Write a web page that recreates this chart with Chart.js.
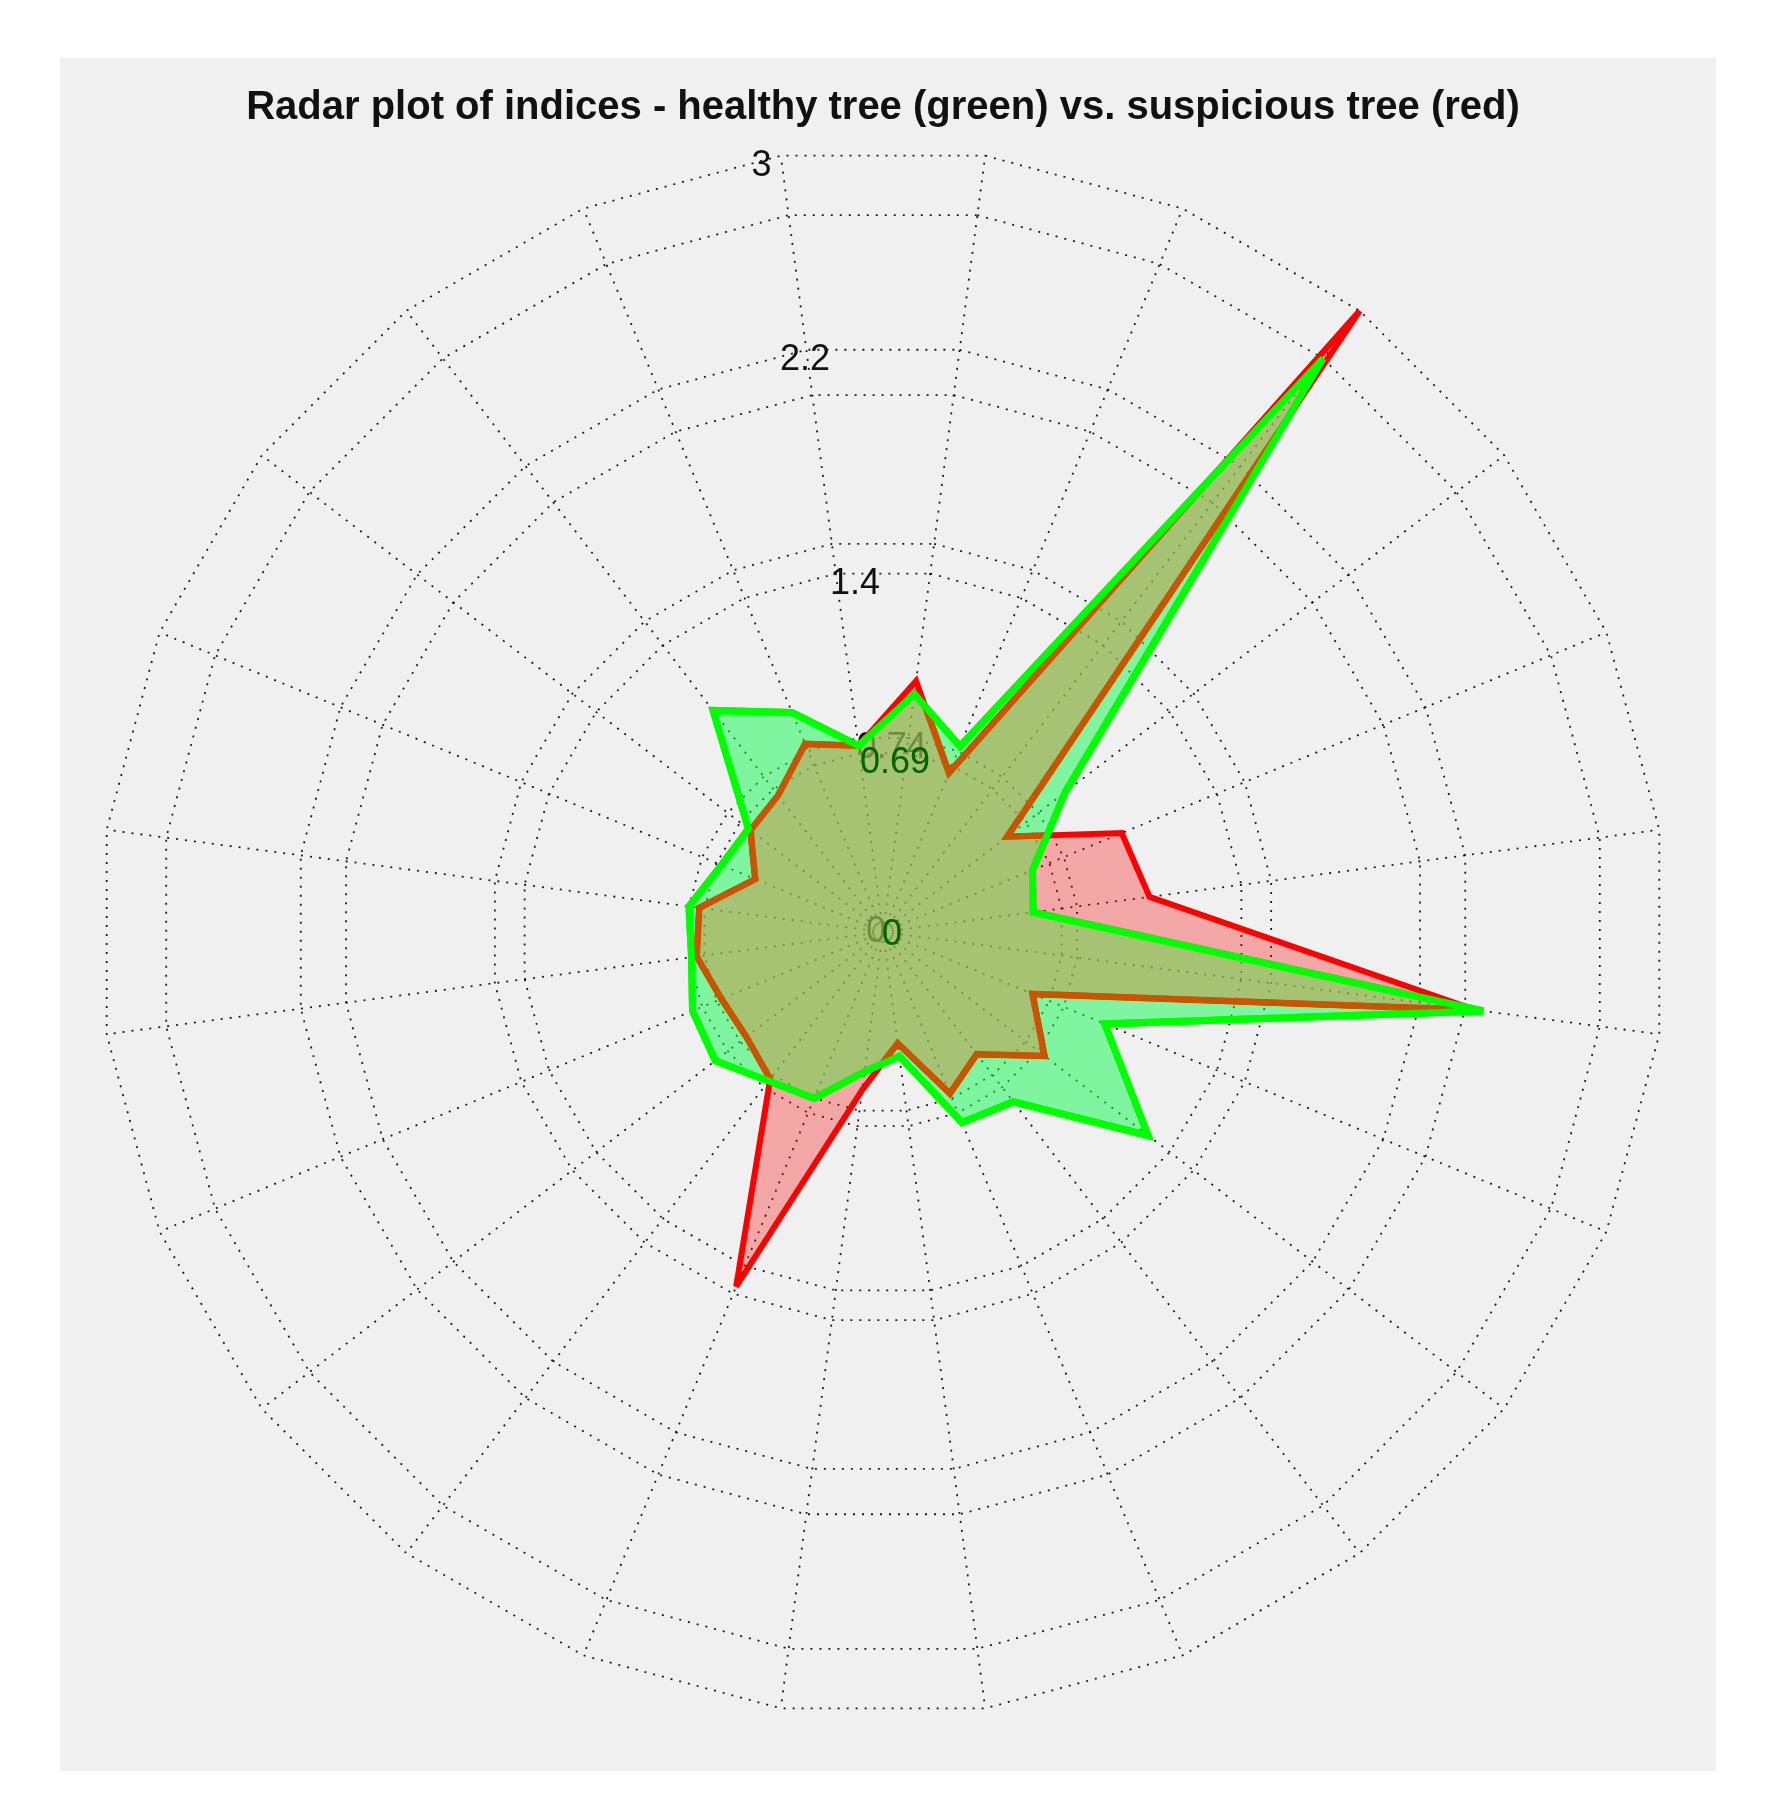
<!DOCTYPE html>
<html>
<head>
<meta charset="utf-8">
<title>Radar plot of indices</title>
<script src="https://cdn.jsdelivr.net/npm/chart.js@4.4.1/dist/chart.umd.min.js"></script>
<style>
  html, body { margin: 0; padding: 0; background: #ffffff; }
  canvas { display: block; }
</style>
</head>
<body>
<canvas id="grafico" width="1779" height="1818"></canvas>
<script>
const indices = ["I1", "I2", "I3", "I4", "I5", "I6", "I7", "I8", "I9", "I10", "I11", "I12",
  "I13", "I14", "I15", "I16", "I17", "I18", "I19", "I20", "I21", "I22", "I23", "I24"];
const healthyTree = [0.92, 0.77, 2.77, 0.88, 0.62, 0.58, 2.32, 0.92, 1.28, 0.82, 0.79, 0.48,
  0.54, 0.69, 0.72, 0.81, 0.79, 0.74, 0.75, 0.67, 0.65, 1.07, 0.91, 0.72];
const suspiciousTree = [0.97, 0.66, 3.0, 0.60, 0.99, 1.03, 2.29, 0.62, 0.78, 0.59, 0.67, 0.43,
  0.61, 1.47, 0.71, 0.66, 0.67, 0.72, 0.71, 0.53, 0.64, 0.66, 0.78, 0.72];

// two sets of rings: one per series range
const ringsRed = [0.75, 1.5, 2.25, 3];
const ringsGreen = [0.69, 1.385, 2.075, 2.77];
const tickLabelsBlack = ["0.74", "1.4", "2.2", "3"];
const tickValuesBlack = [0.75, 1.385, 2.25, 3];
const tickLabelsGreen = ["0.69"];
const tickValuesGreen = [0.69];

const labelFont = '36px "Liberation Sans", Arial, sans-serif';

const panel = {
  id: "panel",
  beforeDraw(chart) {
    const ctx = chart.ctx;
    ctx.save();
    ctx.fillStyle = "#f0f0f0";
    ctx.fillRect(60, 58, 1656, 1713);
    ctx.restore();
  },
  beforeDatasetsDraw(chart) {
    // very sharp tips get cut flat, like the original plot
    chart.ctx.miterLimit = 4;
  }
};

const labelPos = (scale, value) => {
  const r = scale.getDistanceFromCenterForValue(value);
  return { x: scale.xCenter + 52 - 0.2215 * r, y: scale.yCenter - 0.9914 * r + 10 };
};

const drawTickLabels = (chart, texts, values, color, zeroDx, zeroDy) => {
  const ctx = chart.ctx;
  const scale = chart.scales.r;
  ctx.save();
  ctx.font = labelFont;
  ctx.fillStyle = color;
  ctx.textAlign = "center";
  ctx.textBaseline = "middle";
  texts.forEach((t, i) => {
    const p = labelPos(scale, values[i]);
    ctx.fillText(t, p.x, p.y);
  });
  ctx.fillText("0", scale.xCenter + zeroDx, scale.yCenter + zeroDy);
  ctx.restore();
};

const ringLabels = {
  id: "ringLabels",
  beforeDatasetsDraw(chart) {
    drawTickLabels(chart, tickLabelsBlack, tickValuesBlack, "#111111", -7, 0);
  }
};

const overlapLines = {
  id: "overlapLines",
  afterDatasetsDraw(chart) {
    const ctx = chart.ctx;
    const green = chart.getDatasetMeta(0).data;
    const red = chart.getDatasetMeta(1).data;
    const tracePath = (pts) => {
      ctx.beginPath();
      pts.forEach((p, i) => (i ? ctx.lineTo(p.x, p.y) : ctx.moveTo(p.x, p.y)));
      ctx.closePath();
    };
    // where both patches overlap: greener tint and the red edge seen through green
    ctx.save();
    ctx.lineJoin = "miter";
    ctx.miterLimit = 4;
    tracePath(green);
    ctx.clip();
    tracePath(red);
    ctx.fillStyle = "rgba(163, 251, 122, 0.3)";
    ctx.fill();
    ctx.strokeStyle = "#c85500";
    ctx.lineWidth = 6.5;
    ctx.stroke();
    ctx.restore();

    ctx.save();
    ctx.lineJoin = "miter";
    ctx.miterLimit = 4;
    tracePath(green);
    ctx.strokeStyle = "#00ff00";
    ctx.lineWidth = 7;
    ctx.stroke();
    ctx.restore();

    drawTickLabels(chart, tickLabelsGreen, tickValuesGreen, "#006400", 9, 3);
  }
};

const config = {
  type: "radar",
  data: {
    labels: indices,
    datasets: [
      {
        label: "healthy tree",
        data: healthyTree,
        backgroundColor: "rgba(16, 250, 80, 0.5)",
        borderColor: "#00ff00",
        borderWidth: 7,
        borderJoinStyle: "miter",
        pointRadius: 0,
        fill: true,
        order: 2,
      },
      {
        label: "suspicious tree",
        data: suspiciousTree,
        backgroundColor: "rgba(255, 0, 0, 0.3)",
        borderColor: "#ff0000",
        borderWidth: 6,
        borderJoinStyle: "miter",
        pointRadius: 0,
        fill: true,
        order: 1,
      },
    ],
  },
  options: {
    responsive: false,
    animation: false,
    devicePixelRatio: 1,
    layout: { padding: { left: 100, right: 113, top: 0, bottom: 103 } },
    plugins: {
      legend: { display: false },
      tooltip: { enabled: false },
      title: {
        display: true,
        text: "Radar plot of indices - healthy tree (green) vs. suspicious tree (red)",
        color: "#111111",
        font: { family: '"Liberation Sans", Arial, sans-serif', size: 40, weight: "bold" },
        padding: { top: 84, bottom: 17 },
      },
    },
    scales: {
      r: {
        min: 0,
        max: 3,
        startAngle: 7.5,
        ticks: { display: false },
        pointLabels: { display: false },
        grid: { color: "rgba(0, 0, 0, 0.88)", lineWidth: 1.8 },
        border: { dash: [2, 7] },
        angleLines: { color: "rgba(0, 0, 0, 0.88)", lineWidth: 1.8, borderDash: [2, 7] },
        afterBuildTicks: (scale) => {
          scale.ticks = [0, ...ringsGreen, ...ringsRed]
            .sort((a, b) => a - b)
            .map((v) => ({ value: v }));
        },
      },
    },
  },
  plugins: [panel, ringLabels, overlapLines],
};

const canvas = document.getElementById("grafico");
const ctx = canvas.getContext("2d");
const miGrafico = new Chart(ctx, config);
</script>
</body>
</html>
